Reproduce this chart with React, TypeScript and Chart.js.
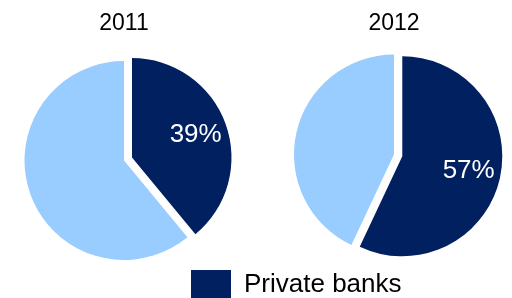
import React, { useEffect, useRef } from 'react';
import { Chart, registerables } from 'chart.js';

Chart.register(...registerables);

// ---- data ----
const years = ['2011', '2012'];
const categories = ['Private banks', 'Other banks'];
const privateShare = [39, 57];
const otherShare = [61, 43];
const labelledIndex = 0; // only the "Private banks" slice is labelled / exploded / in legend

// ---- styles ----
const DARK = '#002060';
const LIGHT = '#99CCFF';
const FONT = "'Liberation Sans', Arial, Helvetica, sans-serif";
const EXPLODE = 8.5;
const LABEL_RADIUS = 0.68;

const explodePlugin = {
  id: 'explodeSlice',
  afterDatasetsUpdate(chart: any) {
    const meta = chart.getDatasetMeta(0);
    meta.data.forEach((arc: any, i: number) => {
      if (i !== labelledIndex) return;
      const mid = (arc.startAngle + arc.endAngle) / 2;
      arc.x += Math.cos(mid) * EXPLODE;
      arc.y += Math.sin(mid) * EXPLODE;
    });
  },
};

const labelPlugin = {
  id: 'sliceLabel',
  afterDatasetsDraw(chart: any) {
    const ctx = chart.ctx;
    const ds = chart.data.datasets[0];
    chart.getDatasetMeta(0).data.forEach((arc: any, i: number) => {
      if (i !== labelledIndex) return;
      const { x, y, startAngle, endAngle, outerRadius } = arc.getProps(
        ['x', 'y', 'startAngle', 'endAngle', 'outerRadius'],
        true
      );
      const mid = (startAngle + endAngle) / 2;
      const r = outerRadius * LABEL_RADIUS;
      ctx.save();
      ctx.fillStyle = '#ffffff';
      ctx.font = `26px ${FONT}`;
      ctx.textAlign = 'center';
      ctx.textBaseline = 'middle';
      ctx.fillText(`${ds.data[i]}%`, x + Math.cos(mid) * r, y + Math.sin(mid) * r);
      ctx.restore();
    });
  },
};

type PieProps = {
  idx: number;
  width: number;
  height: number;
  padding: any;
  titlePadding: any;
  showLegend: boolean;
  legendPadding?: number;
};

function YearPie({ idx, width, height, padding, titlePadding, showLegend, legendPadding }: PieProps) {
  const ref = useRef<HTMLCanvasElement | null>(null);
  useEffect(() => {
    if (!ref.current) return;
    const chart = new Chart(ref.current, {
      type: 'pie',
      data: {
        labels: categories,
        datasets: [
          {
            data: [privateShare[idx], otherShare[idx]],
            backgroundColor: [DARK, LIGHT],
            borderWidth: 0,
            clip: false,
          } as any,
        ],
      },
      options: {
        responsive: false,
        animation: false,
        events: [],
        layout: { padding },
        plugins: {
          title: {
            display: true,
            text: years[idx],
            color: '#000000',
            font: { family: FONT, size: 23, weight: 'normal' },
            padding: titlePadding,
          },
          legend: {
            display: showLegend,
            position: 'bottom',
            align: 'start',
            labels: {
              boxWidth: 40,
              boxHeight: 30,
              padding: legendPadding ?? 10,
              color: '#000000',
              font: { family: FONT, size: 26 },
              filter: (item: any) => item.index === labelledIndex,
            },
          },
          tooltip: { enabled: false },
        },
      } as any,
      plugins: [explodePlugin, labelPlugin],
    });
    return () => chart.destroy();
  }, []);
  return (
    <canvas
      ref={ref}
      width={width}
      height={height}
      style={{ position: 'absolute', left: 0, top: 0, display: 'block' }}
    />
  );
}

export default function App() {
  return (
    <div
      style={{
        position: 'fixed',
        left: 0,
        top: 0,
        width: 512,
        height: 298,
        overflow: 'hidden',
        background: '#ffffff',
      }}
    >
      <YearPie
        idx={0}
        width={256}
        height={298}
        padding={{ left: 24.5, right: 32.5, top: 0, bottom: 38 }}
        titlePadding={{ top: 10, bottom: 23.4 }}
        showLegend={false}
      />
      <YearPie
        idx={1}
        width={620}
        height={310}
        padding={{ left: 175.5, right: 7.5, top: 0, bottom: 0 }}
        titlePadding={{ top: 10, bottom: 16.9 }}
        showLegend={true}
        legendPadding={15.5}
      />
    </div>
  );
}
